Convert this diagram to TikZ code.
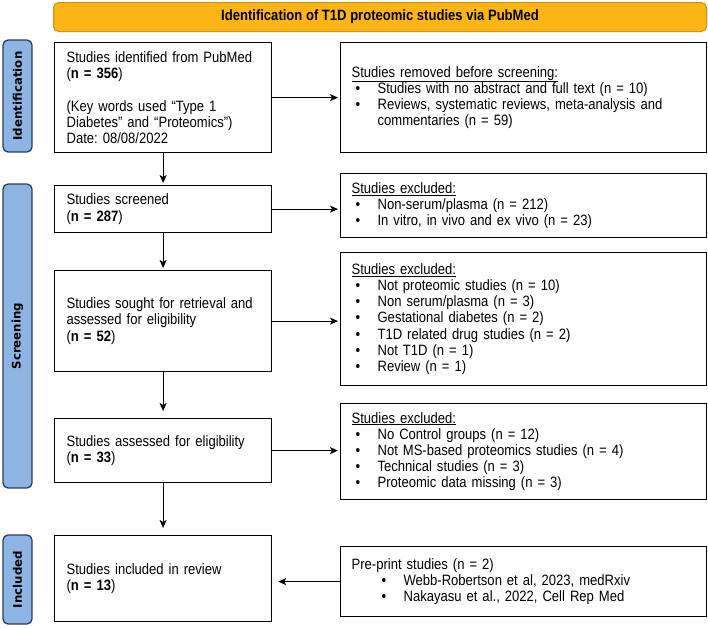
\documentclass[tikz,border=0pt]{standalone}
\usepackage{fontspec}
\setmainfont[FakeStretch=0.87]{Liberation Sans}
\newfontfamily\labfont{DejaVu Sans}
\usetikzlibrary{arrows.meta}
\definecolor{bannerfill}{HTML}{FDB515}
\definecolor{bannerdraw}{HTML}{C8951A}
\definecolor{labfill}{HTML}{8EB4E3}
\definecolor{labdraw}{HTML}{2B3F5C}
\newcommand\bitem[1]{\hspace*{4pt}\makebox[22pt][l]{\textbullet}#1}
\newcommand\bcont[1]{\hspace*{26pt}#1}
\frenchspacing
\begin{document}
\begin{tikzpicture}[x=1pt,y=-1pt,
  font=\fontsize{15}{16.2}\selectfont,
  box/.style={draw, line width=1.2pt, rectangle, anchor=north west, align=left, inner ysep=0pt},
  leftbox/.style={box, inner xsep=12pt, text width=193pt, minimum width=217pt},
  rightbox/.style={box, inner xsep=11pt, text width=344pt, minimum width=366pt},
  side/.style={draw=labdraw, fill=labfill, line width=1.3pt, rounded corners=5pt, rotate=90,
    minimum height=29pt, inner sep=0pt, font=\labfont\bfseries\fontsize{11.8}{12}\selectfont},
  banner/.style={draw=bannerdraw, fill=bannerfill, line width=1pt, rounded corners=5pt,
    minimum width=653pt, minimum height=29pt, anchor=north west, font=\bfseries\fontsize{15}{17}\selectfont},
  arr/.style={-{Stealth[length=8pt,width=7pt,inset=2pt]}, line width=1.2pt}]
\useasboundingbox (0,0) rectangle (708,627);

\node[banner] (ban) at (53,2) {Identification of T1D proteomic studies via PubMed};

\node[side, minimum width=112pt] (lid) at (17.5,96) {Identification};
\node[side, minimum width=304pt] (lsc) at (17.5,336) {Screening};
\node[side, minimum width=89pt] (lin) at (17.5,579.5) {Included};

\node[leftbox, minimum height=110pt] (A) at (54,42) {Studies identified from PubMed\\(\textbf{n = 356})\\[16.2pt](Key words used “Type 1\\Diabetes” and “Proteomics”)\\Date: 08/08/2022};
\node[leftbox, minimum height=47pt] (B) at (54,185) {Studies screened\\(\textbf{n = 287})};
\node[leftbox, minimum height=101pt] (C) at (54,270) {Studies sought for retrieval and\\assessed for eligibility\\(\textbf{n = 52})};
\node[leftbox, minimum height=64pt] (D) at (54,418) {Studies assessed for eligibility\\(\textbf{n = 33})};
\node[leftbox, minimum height=86pt] (E) at (54,535) {Studies included in review\\(\textbf{n = 13})};

\node[rightbox, minimum height=110pt] (R) at (340,42) {\underline{Studies removed before screening:}\\
\bitem{Studies with no abstract and full text (n = 10)}\\
\bitem{Reviews, systematic reviews, meta-analysis and}\\
\bcont{commentaries (n = 59)}};
\node[rightbox, minimum height=64pt] (X1) at (340,173) {\underline{Studies excluded:}\\
\bitem{Non-serum/plasma (n = 212)}\\
\bitem{In vitro, in vivo and ex vivo (n = 23)}};
\node[rightbox, minimum height=133pt] (X2) at (340,252) {\underline{Studies excluded:}\\
\bitem{Not proteomic studies (n = 10)}\\
\bitem{Non serum/plasma (n = 3)}\\
\bitem{Gestational diabetes (n = 2)}\\
\bitem{T1D related drug studies (n = 2)}\\
\bitem{Not T1D (n = 1)}\\
\bitem{Review (n = 1)}};
\node[rightbox, minimum height=96pt] (X3) at (340,403) {\underline{Studies excluded:}\\
\bitem{No Control groups (n = 12)}\\
\bitem{Not MS-based proteomics studies (n = 4)}\\
\bitem{Technical studies (n = 3)}\\
\bitem{Proteomic data missing (n = 3)}};
\node[rightbox, minimum height=70pt] (P) at (340,546) {Pre-print studies (n = 2)\\
\hspace*{26pt}\bitem{Webb-Robertson et al, 2023, medRxiv}\\
\hspace*{26pt}\bitem{Nakayasu et al., 2022, Cell Rep Med}};

\draw[arr, shorten >=2pt] (A.east) -- (A.east -| R.west);
\draw[arr, shorten >=2pt] (B.east) -- (B.east -| X1.west);
\draw[arr, shorten >=2pt] (C.east) -- (C.east -| X2.west);
\draw[arr, shorten >=2pt] (D.east) -- (D.east -| X3.west);
\draw[arr, shorten >=6pt] (P.west) -- (P.west -| E.east);
\draw[arr, shorten >=2pt] (A.south) -- (B.north);
\draw[arr, shorten >=2pt] (B.south) -- (C.north);
\draw[arr, shorten >=7pt] (C.south) -- (D.north);
\draw[arr, shorten >=7pt] (D.south) -- (E.north);
\end{tikzpicture}
\end{document}
